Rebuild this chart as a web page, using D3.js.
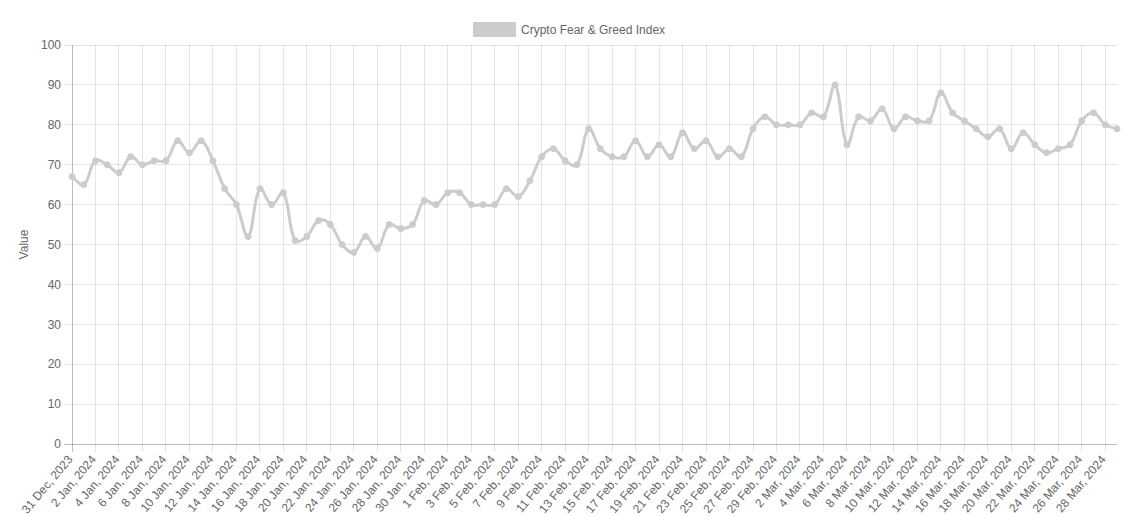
<!DOCTYPE html>
<html>
<head>
<meta charset="utf-8">
<script src="https://cdn.jsdelivr.net/npm/d3@7"></script>
<style>
html,body{margin:0;padding:0;background:#fff;}
svg{display:block;font-family:"Liberation Sans",Arial,Helvetica,sans-serif;}
</style>
</head>
<body>
<svg id="chart" width="1137" height="516"></svg>
<script>
const seriesName = "Crypto Fear & Greed Index";
const startDate = "2023-12-31";
const values = [
  67,65,71,70,68,72,70,71,71,76,
  73,76,71,64,60,52,64,60,63,51,
  52,56,55,50,48,52,49,55,54,55,
  61,60,63,63,60,60,60,64,62,66,
  72,74,71,70,79,74,72,72,76,72,
  75,72,78,74,76,72,74,72,79,82,
  80,80,80,83,82,90,75,82,81,84,
  79,82,81,81,88,83,81,79,77,79,
  74,78,75,73,74,75,81,83,80,79
];
const yTicks = [0,10,20,30,40,50,60,70,80,90,100];
const yTitle = "Value";

const months = ["Jan","Feb","Mar","Apr","May","Jun","Jul","Aug","Sep","Oct","Nov","Dec"];
const d0 = new Date(startDate + "T00:00:00Z");
const categories = values.map((v,i) => {
  const d = new Date(d0.getTime() + i*86400000);
  return d.getUTCDate() + " " + months[d.getUTCMonth()] + ", " + d.getUTCFullYear();
});

const color = "rgb(204,204,204)";
const svg = d3.select("#chart");
const pLeft = 72, pRight = 1117, pTop = 45, pBottom = 444;

const x = d3.scaleLinear().domain([0, values.length-1]).range([pLeft, pRight]);
const y = d3.scaleLinear().domain([0,100]).range([pBottom, pTop]);

// grid
const g = svg.append("g");
yTicks.forEach(t => {
  g.append("line").attr("x1", pLeft-8).attr("x2", pRight).attr("y1", y(t)).attr("y2", y(t))
    .attr("stroke", t===0 ? "rgba(0,0,0,0.25)" : "rgba(0,0,0,0.1)").attr("stroke-width",1)
    .attr("shape-rendering","crispEdges");
  svg.append("text").attr("x", pLeft-11).attr("y", y(t)).attr("dy","0.35em")
    .attr("text-anchor","end").attr("font-size",12).attr("fill","#666").text(t);
});
categories.forEach((c,i) => {
  if (i % 2 !== 0) return;
  g.append("line").attr("x1", x(i)).attr("x2", x(i)).attr("y1", pTop).attr("y2", pBottom+8)
    .attr("stroke", i===0 ? "rgba(0,0,0,0.25)" : "rgba(0,0,0,0.1)").attr("stroke-width",1)
    .attr("shape-rendering","crispEdges");
  svg.append("text")
    .attr("transform", `translate(${x(i)-2},${pBottom+13}) rotate(-50)`)
    .attr("text-anchor","end").attr("dy","0.35em").attr("font-size",12).attr("fill","#666").text(c);
});

// y title
svg.append("text").attr("transform", `translate(28,${(pTop+pBottom)/2}) rotate(-90)`)
  .attr("text-anchor","middle").attr("font-size",12).attr("fill","#666").text(yTitle);

// Chart.js-like spline path
const pts = values.map((v,i) => [x(i), y(v)]);
const tension = 0.4;
const cps = pts.map((p,i) => {
  const prev = pts[i-1] || p, next = pts[i+1] || p;
  const d01 = Math.hypot(p[0]-prev[0], p[1]-prev[1]);
  const d12 = Math.hypot(next[0]-p[0], next[1]-p[1]);
  let s01 = d01/(d01+d12), s12 = d12/(d01+d12);
  if (!isFinite(s01)) s01 = 0; if (!isFinite(s12)) s12 = 0;
  const fa = tension*s01, fb = tension*s12;
  return {
    prev: [p[0] - fa*(next[0]-prev[0]), p[1] - fa*(next[1]-prev[1])],
    next: [p[0] + fb*(next[0]-prev[0]), p[1] + fb*(next[1]-prev[1])]
  };
});
const clampY = v => Math.min(pBottom, Math.max(pTop, v));
const path = d3.path();
path.moveTo(pts[0][0], pts[0][1]);
for (let i=1;i<pts.length;i++){
  const a = cps[i-1].next, b = cps[i].prev;
  path.bezierCurveTo(a[0], clampY(a[1]), b[0], clampY(b[1]), pts[i][0], pts[i][1]);
}
svg.append("path").attr("d", path.toString()).attr("fill","none")
  .attr("stroke", color).attr("stroke-width",3).attr("stroke-linejoin","round");

svg.append("g").selectAll("circle").data(values).join("circle")
  .attr("cx", (d,i) => x(i)).attr("cy", d => y(d)).attr("r",3)
  .attr("fill", color).attr("stroke", color).attr("stroke-width",1);

// legend
const lg = svg.append("g");
lg.append("rect").attr("x",474.5).attr("y",23.5).attr("width",40).attr("height",12)
  .attr("fill", color).attr("stroke", color).attr("stroke-width",3);
lg.append("text").attr("x",521).attr("y",29.5).attr("dy","0.35em").attr("font-size",12)
  .attr("fill","#666").text(seriesName);
</script>
</body>
</html>
